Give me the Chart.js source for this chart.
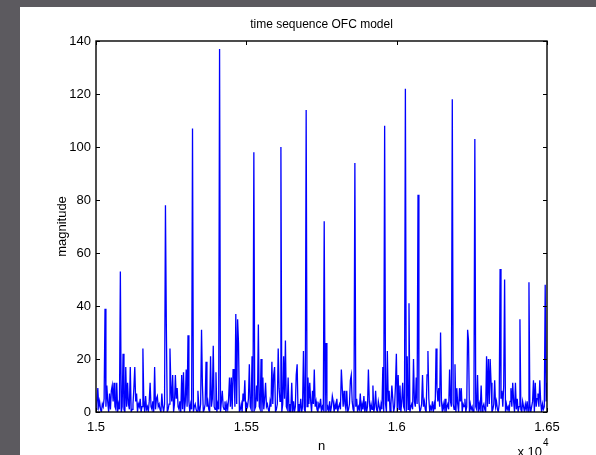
<!DOCTYPE html>
<html>
<head>
<meta charset="utf-8">
<title>time sequence OFC model</title>
<script src="https://cdn.jsdelivr.net/npm/chart.js@4.4.1/dist/chart.umd.min.js"></script>
<style>
    html, body {
        margin: 0;
        padding: 0;
        width: 596px;
        height: 455px;
        overflow: hidden;
        background: #5c5a5f;
    }
    #panel {
        position: absolute;
        left: 20px;
        top: 7px;
        width: 576px;
        height: 448px;
        background: #ffffff;
    }
</style>
</head>
<body>
<div id="panel">
    <canvas id="ofcChart" width="576" height="448"></canvas>
</div>
<script>
// sample index n runs from 15000 to 16500
const nStart = 15000;
const nStep = 3;

// event magnitude per sample
const magnitude = [
    1, 3, 9, 2, 4, 1, 0, 3, 2, 5, 39, 2, 10, 4, 0, 7, 1, 8, 10, 4,
    11, 2, 1, 11, 0, 3, 1, 53, 0, 2, 22, 1, 0, 17, 2, 11, 3, 1, 17, 0,
    1, 3, 9, 17, 4, 7, 0, 3, 2, 5, 0, 2, 24, 4, 0, 6, 1, 2, 0, 4,
    11, 2, 1, 4, 0, 17, 1, 5, 6, 2, 3, 1, 0, 7, 2, 0, 3, 78, 32, 0,
    1, 3, 24, 10, 4, 14, 0, 3, 14, 5, 9, 2, 1, 4, 0, 14, 1, 15, 0, 4,
    16, 2, 29, 4, 0, 3, 1, 107, 0, 2, 3, 1, 0, 8, 2, 0, 3, 31, 10, 0,
    1, 3, 19, 2, 4, 1, 0, 21, 2, 5, 25, 2, 1, 15, 0, 3, 1, 137, 0, 4,
    8, 2, 1, 4, 0, 3, 1, 5, 13, 2, 13, 1, 16, 16, 2, 37, 3, 35, 26, 0,
    1, 3, 0, 7, 4, 12, 0, 3, 2, 5, 18, 2, 1, 21, 0, 98, 1, 2, 10, 4,
    33, 2, 1, 20, 0, 13, 1, 5, 11, 2, 3, 1, 0, 4, 2, 19, 3, 14, 17, 0,
    1, 3, 24, 9, 4, 100, 0, 3, 21, 5, 27, 2, 1, 13, 0, 3, 1, 11, 0, 4,
    0, 2, 14, 18, 0, 3, 1, 5, 0, 2, 23, 1, 0, 114, 2, 13, 3, 11, 4, 0,
    8, 3, 16, 2, 4, 1, 0, 3, 2, 5, 0, 2, 1, 72, 0, 26, 1, 2, 0, 4,
    0, 2, 6, 4, 0, 3, 1, 5, 0, 2, 3, 1, 16, 9, 2, 8, 3, 1, 8, 0,
    1, 3, 12, 14, 4, 1, 0, 94, 2, 5, 0, 2, 1, 7, 0, 3, 1, 6, 0, 4,
    0, 2, 16, 4, 0, 3, 1, 10, 0, 2, 8, 1, 0, 4, 2, 0, 3, 1, 17, 0,
    108, 3, 0, 23, 4, 8, 0, 3, 10, 5, 0, 2, 10, 22, 0, 14, 1, 10, 0, 4,
    11, 2, 1, 122, 0, 21, 1, 41, 0, 2, 3, 1, 20, 4, 2, 13, 3, 82, 4, 0,
    1, 3, 14, 2, 4, 1, 0, 14, 23, 5, 0, 2, 1, 4, 0, 3, 1, 24, 9, 4,
    9, 2, 30, 4, 0, 3, 1, 5, 0, 2, 3, 1, 16, 4, 2, 118, 3, 1, 18, 0,
    9, 3, 0, 9, 4, 9, 0, 3, 2, 5, 0, 2, 31, 27, 0, 3, 1, 2, 0, 4,
    103, 2, 1, 14, 0, 3, 1, 10, 0, 2, 3, 1, 0, 21, 2, 20, 3, 20, 11, 0,
    1, 3, 12, 2, 4, 1, 0, 3, 54, 5, 8, 2, 10, 50, 0, 3, 1, 2, 0, 4,
    9, 2, 11, 4, 0, 11, 1, 5, 0, 2, 35, 1, 0, 4, 2, 0, 3, 1, 4, 0,
    49, 3, 0, 2, 4, 12, 0, 11, 2, 5, 7, 2, 12, 4, 0, 3, 1, 2, 48, 4,
    11
];

const xTicks = [15000, 15500, 16000, 16500];
const xTickLabels = ['1.5', '1.55', '1.6', '1.65'];
const yTicks = [0, 20, 40, 60, 80, 100, 120, 140];

const FONT = '"Liberation Sans", Arial, Helvetica, sans-serif';

// MATLAB style frame: closed box with short inward ticks, plus the text
const framePlugin = {
    id: 'frame',
    afterDraw(chart) {
        const ctx = chart.ctx;
        const area = chart.chartArea;
        const xs = chart.scales.x;
        const ys = chart.scales.y;
        const tick = 4;

        ctx.save();
        ctx.strokeStyle = '#000000';
        ctx.lineWidth = 1.4;
        ctx.strokeRect(area.left, area.top, area.right - area.left, area.bottom - area.top);

        ctx.lineWidth = 1;
        ctx.beginPath();
        yTicks.forEach(v => {
            const y = Math.round(ys.getPixelForValue(v)) + 0.5;
            ctx.moveTo(area.left, y);
            ctx.lineTo(area.left + tick, y);
            ctx.moveTo(area.right, y);
            ctx.lineTo(area.right - tick, y);
        });
        xTicks.forEach(v => {
            const x = Math.round(xs.getPixelForValue(v)) + 0.5;
            ctx.moveTo(x, area.bottom);
            ctx.lineTo(x, area.bottom - tick);
            ctx.moveTo(x, area.top);
            ctx.lineTo(x, area.top + tick);
        });
        ctx.stroke();

        ctx.fillStyle = '#000000';
        const midX = (area.left + area.right) / 2;
        const midY = (area.top + area.bottom) / 2;

        ctx.font = '12px ' + FONT;
        ctx.textAlign = 'center';
        ctx.textBaseline = 'middle';
        ctx.fillText('time sequence OFC model', midX, area.top - 16);

        ctx.font = '13px ' + FONT;
        ctx.fillText('n', midX, area.bottom + 34);

        ctx.save();
        ctx.translate(area.left - 34, midY);
        ctx.rotate(-Math.PI / 2);
        ctx.fillText('magnitude', 0, 0);
        ctx.restore();

        // exponent of the n axis
        ctx.textAlign = 'right';
        ctx.fillText('x 10', area.right - 5, area.bottom + 40);
        ctx.font = '10px ' + FONT;
        ctx.textAlign = 'left';
        ctx.fillText('4', area.right - 4, area.bottom + 31);
        ctx.restore();
    }
};

const ctx = document.getElementById('ofcChart').getContext('2d');
const ofcChart = new Chart(ctx, {
    type: 'line',
    data: {
        datasets: [{
            label: 'magnitude',
            data: magnitude.map((v, i) => ({ x: nStart + i * nStep, y: v })),
            borderColor: '#0000ff',
            borderWidth: 1.3,
            pointRadius: 0,
            tension: 0,
            fill: false
        }]
    },
    options: {
        responsive: false,
        animation: false,
        layout: {
            padding: { top: 34, right: 49, left: 0, bottom: 0 }
        },
        plugins: {
            legend: { display: false },
            tooltip: { enabled: false },
            title: { display: false }
        },
        scales: {
            x: {
                type: 'linear',
                min: 15000,
                max: 16500,
                afterBuildTicks: scale => {
                    scale.ticks = xTicks.map(v => ({ value: v }));
                },
                afterFit: scale => { scale.height = 43; },
                grid: { display: false, drawTicks: false },
                border: { display: false },
                ticks: {
                    padding: 8,
                    color: '#000000',
                    font: { family: FONT, size: 13 },
                    maxRotation: 0,
                    callback: v => xTickLabels[xTicks.indexOf(v)]
                }
            },
            y: {
                min: 0,
                max: 140,
                afterBuildTicks: scale => {
                    scale.ticks = yTicks.map(v => ({ value: v }));
                },
                afterFit: scale => { scale.width = 76; },
                grid: { display: false, drawTicks: false },
                border: { display: false },
                ticks: {
                    padding: 5,
                    color: '#000000',
                    font: { family: FONT, size: 13 }
                }
            }
        }
    },
    plugins: [framePlugin]
});
</script>
</body>
</html>
